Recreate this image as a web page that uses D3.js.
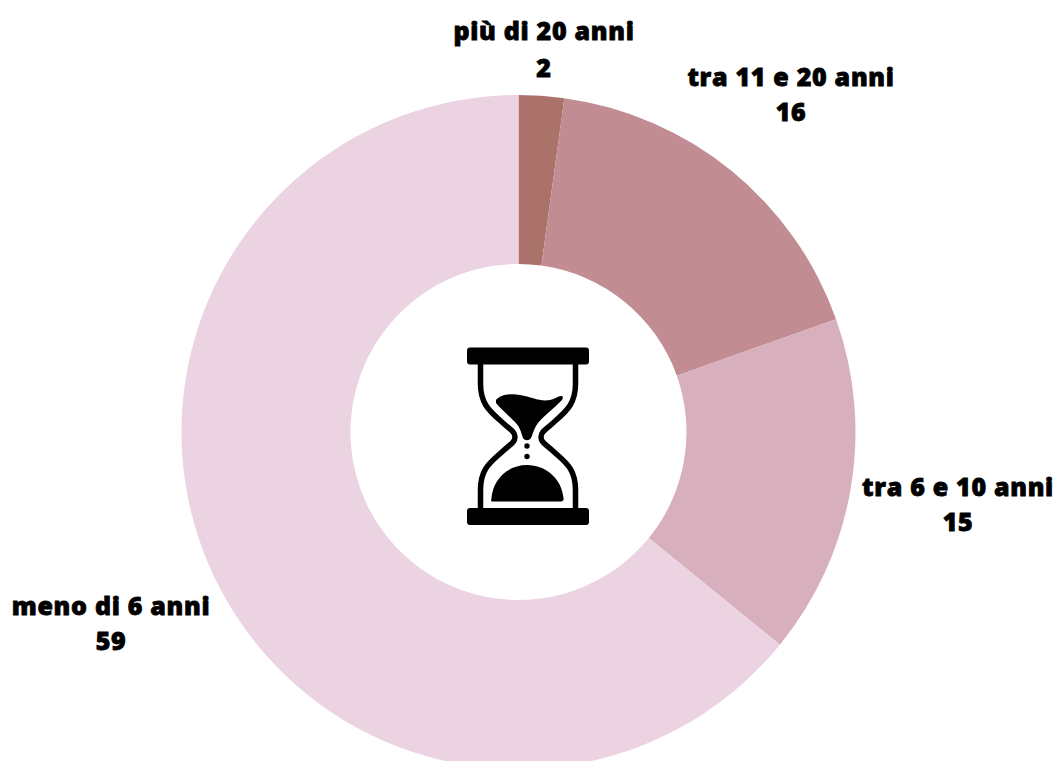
<!DOCTYPE html>
<html>
<head>
<meta charset="utf-8">
<script src="https://cdn.jsdelivr.net/npm/d3@7"></script>
<style>
  html, body { margin: 0; padding: 0; background: #fff; overflow: hidden; }
  svg { display: block; }
  /* bold face only goes so far here, the stroke fattens it up to the original's black weight */
  .label { font-family: "Open Sans", sans-serif; font-weight: 800; font-size: 25px; letter-spacing: 0.7px; fill: #000; stroke: #000; stroke-width: 0.8px; text-anchor: middle; }
</style>
</head>
<body>
<svg></svg>
<script>
const categories = ['più di 20 anni', 'tra 11 e 20 anni', 'tra 6 e 10 anni', 'meno di 6 anni'];
const values = [2, 16, 15, 59];
const colors = ['#ab7269', '#c18d93', '#d8afbc', '#ebd3e1'];
// label centres, hand placed like the original
const labelX = [544, 791, 958, 111];
const labelY = [40, 86, 496, 615];
const labelGap = [37, 34.5, 34.5, 34.5];

const width = 1057;
const height = 761;
const cx = 518.5;
const cy = 432;
const outerR = 337;
const innerR = 168;

const svg = d3.select('svg')
  .attr('width', width)
  .attr('height', height);

const chart = svg.append('g')
  .attr('transform', `translate(${cx}, ${cy})`);

const pie = d3.pie().sort(null);
const arc = d3.arc().innerRadius(innerR).outerRadius(outerR);

chart.selectAll('path')
  .data(pie(values))
  .enter()
  .append('path')
  .attr('d', arc)
  .attr('fill', (d, i) => colors[i]);

// labels: name on first line, value under it
const labels = svg.selectAll('.label')
  .data(categories)
  .enter()
  .append('text')
  .attr('class', 'label')
  .attr('x', (d, i) => labelX[i])
  .attr('y', (d, i) => labelY[i]);

labels.append('tspan')
  .text((d) => d);

labels.append('tspan')
  .attr('x', (d, i) => labelX[i])
  .attr('dy', (d, i) => labelGap[i])
  .text((d, i) => values[i]);

// hourglass icon, origin at its middle
const icon = svg.append('g')
  .attr('transform', 'translate(528, 436)');

icon.append('rect').attr('x', -61).attr('y', -88.5).attr('width', 122).attr('height', 17).attr('rx', 3);
icon.append('rect').attr('x', -61).attr('y', 72).attr('width', 122).attr('height', 17).attr('rx', 3);

const glass = 'M-47.5,-72 V-52 C-47.5,-31 -37,-24 -25,-13 C-17,-6 -13,-4 -13,1 C-13,6 -17,8 -25,15 C-37,26 -47.5,32 -47.5,54 V72';
[1, -1].forEach((s) => {
  icon.append('path')
    .attr('d', glass)
    .attr('transform', `scale(${s}, 1)`)
    .attr('fill', 'none')
    .attr('stroke', '#000')
    .attr('stroke-width', 5.5);
});

icon.append('path')
  .attr('d', 'M-32,-36 C-28,-41 -18,-43 -8,-41 C4,-39 12,-34 22,-36 C27,-37 30,-40 33,-40 C36,-40 35,-37 33,-35 C26,-28 16,-20 10,-13 C6,-8 5,-2 3,2 C1,5 -3,5 -5,2 C-7,-4 -8,-9 -13,-14 C-19,-20 -27,-27 -32,-33 Z');

icon.append('path')
  .attr('d', 'M-36,65.5 C-37,65.5 -37,64 -36.5,62 C-35,43 -20,29 -1,29 C18,29 34,43 35.5,62 C36,64 35,65.5 33,65.5 Z');

icon.append('circle').attr('cx', -1).attr('cy', 10).attr('r', 2.7);
icon.append('circle').attr('cx', -1).attr('cy', 20.5).attr('r', 2.7);
</script>
</body>
</html>
